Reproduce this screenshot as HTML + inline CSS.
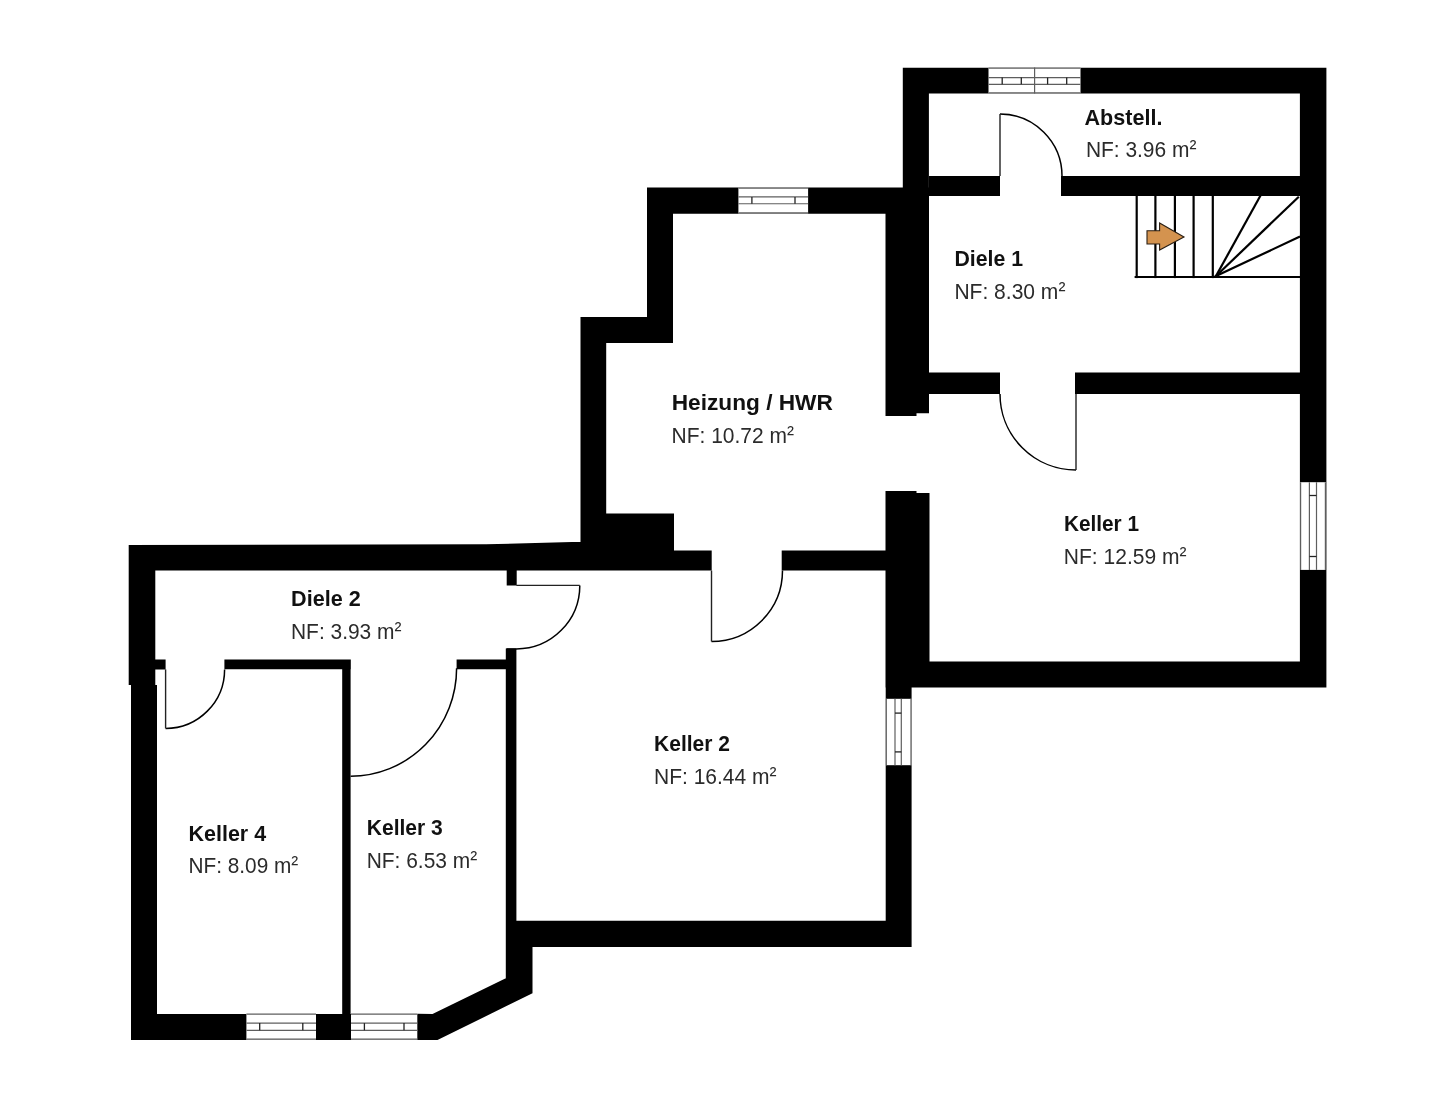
<!DOCTYPE html>
<html><head><meta charset="utf-8"><style>
html,body{margin:0;padding:0;background:#fff;width:1440px;height:1105px;overflow:hidden;font-family:"Liberation Sans",sans-serif;}
svg{display:block;will-change:transform}
</style></head><body>
<svg width="1440" height="1105" viewBox="0 0 1440 1105">
<path fill="#000" d="M902.8,67.8H1326.3V93.6H902.8ZM902.8,67.8H928.9V187.5H902.8ZM885.5,187.5H916.5V416H885.5ZM903,187.5H929V413.3H903ZM1299.9,67.8H1326.4V687.6H1299.9ZM929,176H1000V196H929ZM1061,176H1300V196H1061ZM929,372.5H1000V394H929ZM1075,372.5H1300V394H1075ZM885.5,491H916.5V662H885.5ZM903,493H929.5V662H903ZM885.5,661.5H1326.4V687.6H885.5ZM885.7,687H911.6V947.1H885.7ZM647,187.5H903V213.75H647ZM647,187.5H673V343H647ZM580.5,317.1H673V343H580.5ZM580.5,317.1H606.2V570.5H580.5ZM606,513.6H674V570.5H606ZM674,550.6H711.7V570.5H674ZM781.7,550.6H886.3V570.5H781.7ZM128.7,545.3H155.3V685H128.7ZM131,685H157V1040H131ZM152,659.4H165.6V669.4H152ZM224.4,659.5H350.8V669.3H224.4ZM342.2,659.5H350.6V1040H342.2ZM131,1013.9H417.5V1040H131ZM456.6,659.5H516.3V669.3H456.6ZM505.8,648.6H516.4V980H505.8ZM506.7,565H516.7V585.5H506.7ZM505.8,920.7H911.6V947.1H505.8ZM505.8,920.8H532.5V993.3H505.8ZM128.7,545.0L486,544.3L581,541.7L581,570.5L128.7,570.5ZM505.8,978.3L532.5,993.3L437.5,1040L417.3,1040L417.3,1013.8L432.5,1014.0Z"/>
<rect x="988.5" y="67.5" width="92.0" height="26.0" fill="#fff"/><g fill="none" stroke="#5e5e5e" stroke-width="1.2"><line x1="988.5" y1="68.1" x2="1080.5" y2="68.1"/><line x1="988.5" y1="92.9" x2="1080.5" y2="92.9"/><line x1="988.5" y1="77.6" x2="1080.5" y2="77.6"/><line x1="988.5" y1="84.3" x2="1080.5" y2="84.3"/><line x1="1002.2" y1="77.6" x2="1002.2" y2="84.3" stroke="#222" stroke-width="1.3"/><line x1="1021.3" y1="77.6" x2="1021.3" y2="84.3" stroke="#222" stroke-width="1.3"/><line x1="1047.6" y1="77.6" x2="1047.6" y2="84.3" stroke="#222" stroke-width="1.3"/><line x1="1066.7" y1="77.6" x2="1066.7" y2="84.3" stroke="#222" stroke-width="1.3"/><line x1="1034.6" y1="67.5" x2="1034.6" y2="93.5"/></g><rect x="738.4" y="187.5" width="69.7" height="26.0" fill="#fff"/><g fill="none" stroke="#5e5e5e" stroke-width="1.2"><line x1="738.4" y1="188.1" x2="808.1" y2="188.1"/><line x1="738.4" y1="212.9" x2="808.1" y2="212.9"/><line x1="738.4" y1="196.9" x2="808.1" y2="196.9"/><line x1="738.4" y1="203.75" x2="808.1" y2="203.75"/><line x1="751.9" y1="196.9" x2="751.9" y2="203.75" stroke="#222" stroke-width="1.3"/><line x1="795" y1="196.9" x2="795" y2="203.75" stroke="#222" stroke-width="1.3"/></g><rect x="1300" y="482.2" width="26" height="87.7" fill="#fff"/><g fill="none" stroke="#5e5e5e" stroke-width="1.2"><line x1="1300.6" y1="482.2" x2="1300.6" y2="569.9"/><line x1="1325.4" y1="482.2" x2="1325.4" y2="569.9"/><line x1="1309.4" y1="482.2" x2="1309.4" y2="569.9"/><line x1="1316.5" y1="482.2" x2="1316.5" y2="569.9"/><line x1="1309.4" y1="495.5" x2="1316.5" y2="495.5" stroke="#222" stroke-width="1.3"/><line x1="1309.4" y1="556.5" x2="1316.5" y2="556.5" stroke="#222" stroke-width="1.3"/></g><rect x="885.7" y="698.8" width="25.9" height="66.4" fill="#fff"/><g fill="none" stroke="#5e5e5e" stroke-width="1.2"><line x1="886.3000000000001" y1="698.8" x2="886.3000000000001" y2="765.2"/><line x1="911.0" y1="698.8" x2="911.0" y2="765.2"/><line x1="895" y1="698.8" x2="895" y2="765.2"/><line x1="901.3" y1="698.8" x2="901.3" y2="765.2"/><line x1="895" y1="713.1" x2="901.3" y2="713.1" stroke="#222" stroke-width="1.3"/><line x1="895" y1="751.9" x2="901.3" y2="751.9" stroke="#222" stroke-width="1.3"/></g><rect x="246.4" y="1013.6" width="69.6" height="26.2" fill="#fff"/><g fill="none" stroke="#5e5e5e" stroke-width="1.2"><line x1="246.4" y1="1014.2" x2="316" y2="1014.2"/><line x1="246.4" y1="1039.2" x2="316" y2="1039.2"/><line x1="246.4" y1="1023.1" x2="316" y2="1023.1"/><line x1="246.4" y1="1030.3" x2="316" y2="1030.3"/><line x1="259.7" y1="1023.1" x2="259.7" y2="1030.3" stroke="#222" stroke-width="1.3"/><line x1="302.8" y1="1023.1" x2="302.8" y2="1030.3" stroke="#222" stroke-width="1.3"/></g><rect x="351" y="1013.6" width="66.3" height="26.2" fill="#fff"/><g fill="none" stroke="#5e5e5e" stroke-width="1.2"><line x1="351" y1="1014.2" x2="417.3" y2="1014.2"/><line x1="351" y1="1039.2" x2="417.3" y2="1039.2"/><line x1="351" y1="1023.1" x2="417.3" y2="1023.1"/><line x1="351" y1="1030.3" x2="417.3" y2="1030.3"/><line x1="364.4" y1="1023.1" x2="364.4" y2="1030.3" stroke="#222" stroke-width="1.3"/><line x1="404" y1="1023.1" x2="404" y2="1030.3" stroke="#222" stroke-width="1.3"/></g>
<g fill="none" stroke="#000" stroke-width="1.5"><path d="M1000,114 A62,62 0 0 1 1062,176"/><path d="M1000,394 A76,76 0 0 0 1076,470"/><path d="M782.5,570.5 A71,71 0 0 1 711.5,641.5"/><path d="M579.8,585.4 A63.5,63.5 0 0 1 516.3,648.9 L506.5,648.9"/><path d="M224.6,669.4 A59,59 0 0 1 165.6,728.4"/><path d="M456.6,668.2 A106,108 0 0 1 350.6,776.2"/></g>
<g fill="none" stroke="#222" stroke-width="1.4"><path d="M1000,176 L1000,114"/><path d="M1076,470 L1076,394"/><path d="M711.5,641.5 L711.5,570.5"/><path d="M516.3,585.4 L579.8,585.4"/><path d="M165.6,728.4 L165.6,669.4"/></g>
<g stroke="#000" stroke-width="2.2" stroke-linecap="square"><line x1="1136.7" y1="196" x2="1136.7" y2="277"/><line x1="1155.4" y1="196" x2="1155.4" y2="277"/><line x1="1174.9" y1="196" x2="1174.9" y2="277"/><line x1="1193.6" y1="196" x2="1193.6" y2="277"/><line x1="1212.8" y1="196" x2="1212.8" y2="277"/><line x1="1135.7" y1="277" x2="1300" y2="277"/><line x1="1216" y1="276" x2="1260" y2="196.4"/><line x1="1216" y1="276" x2="1298" y2="197.5"/><line x1="1216" y1="276" x2="1299" y2="237"/></g>
<polygon points="1147,230.7 1159.6,230.7 1159.6,223 1184,237 1159.6,250 1159.6,244 1147,244" fill="#D4934F" stroke="#2a1f14" stroke-width="1.1"/>
<g font-family="Liberation Sans, sans-serif" font-size="21.5"><text x="1084.5" y="124.8" font-weight="bold" fill="#111" textLength="77.9" lengthAdjust="spacingAndGlyphs">Abstell.</text><text x="1085.9" y="157.4" fill="#2b2b2b" textLength="110.5" lengthAdjust="spacingAndGlyphs">NF: 3.96 m<tspan dy="-2">²</tspan></text><text x="954.5" y="265.5" font-weight="bold" fill="#111" textLength="68.6" lengthAdjust="spacingAndGlyphs">Diele 1</text><text x="954.4" y="298.8" fill="#2b2b2b" textLength="111.0" lengthAdjust="spacingAndGlyphs">NF: 8.30 m<tspan dy="-2">²</tspan></text><text x="671.7" y="409.9" font-weight="bold" fill="#111" textLength="161.2" lengthAdjust="spacingAndGlyphs">Heizung / HWR</text><text x="671.6" y="443.2" fill="#2b2b2b" textLength="122.39999999999999" lengthAdjust="spacingAndGlyphs">NF: 10.72 m<tspan dy="-2">²</tspan></text><text x="1063.9" y="531.25" font-weight="bold" fill="#111" textLength="75.1" lengthAdjust="spacingAndGlyphs">Keller 1</text><text x="1063.8" y="563.5" fill="#2b2b2b" textLength="122.69999999999999" lengthAdjust="spacingAndGlyphs">NF: 12.59 m<tspan dy="-2">²</tspan></text><text x="291.1" y="605.5" font-weight="bold" fill="#111" textLength="69.6" lengthAdjust="spacingAndGlyphs">Diele 2</text><text x="291.0" y="638.8" fill="#2b2b2b" textLength="110.5" lengthAdjust="spacingAndGlyphs">NF: 3.93 m<tspan dy="-2">²</tspan></text><text x="654.1" y="751.25" font-weight="bold" fill="#111" textLength="75.9" lengthAdjust="spacingAndGlyphs">Keller 2</text><text x="654.0" y="783.5" fill="#2b2b2b" textLength="122.5" lengthAdjust="spacingAndGlyphs">NF: 16.44 m<tspan dy="-2">²</tspan></text><text x="188.6" y="840.6" font-weight="bold" fill="#111" textLength="77.5" lengthAdjust="spacingAndGlyphs">Keller 4</text><text x="188.5" y="872.8" fill="#2b2b2b" textLength="109.8" lengthAdjust="spacingAndGlyphs">NF: 8.09 m<tspan dy="-2">²</tspan></text><text x="366.8" y="835" font-weight="bold" fill="#111" textLength="76.0" lengthAdjust="spacingAndGlyphs">Keller 3</text><text x="366.7" y="868.3" fill="#2b2b2b" textLength="110.5" lengthAdjust="spacingAndGlyphs">NF: 6.53 m<tspan dy="-2">²</tspan></text></g>
</svg>
</body></html>
